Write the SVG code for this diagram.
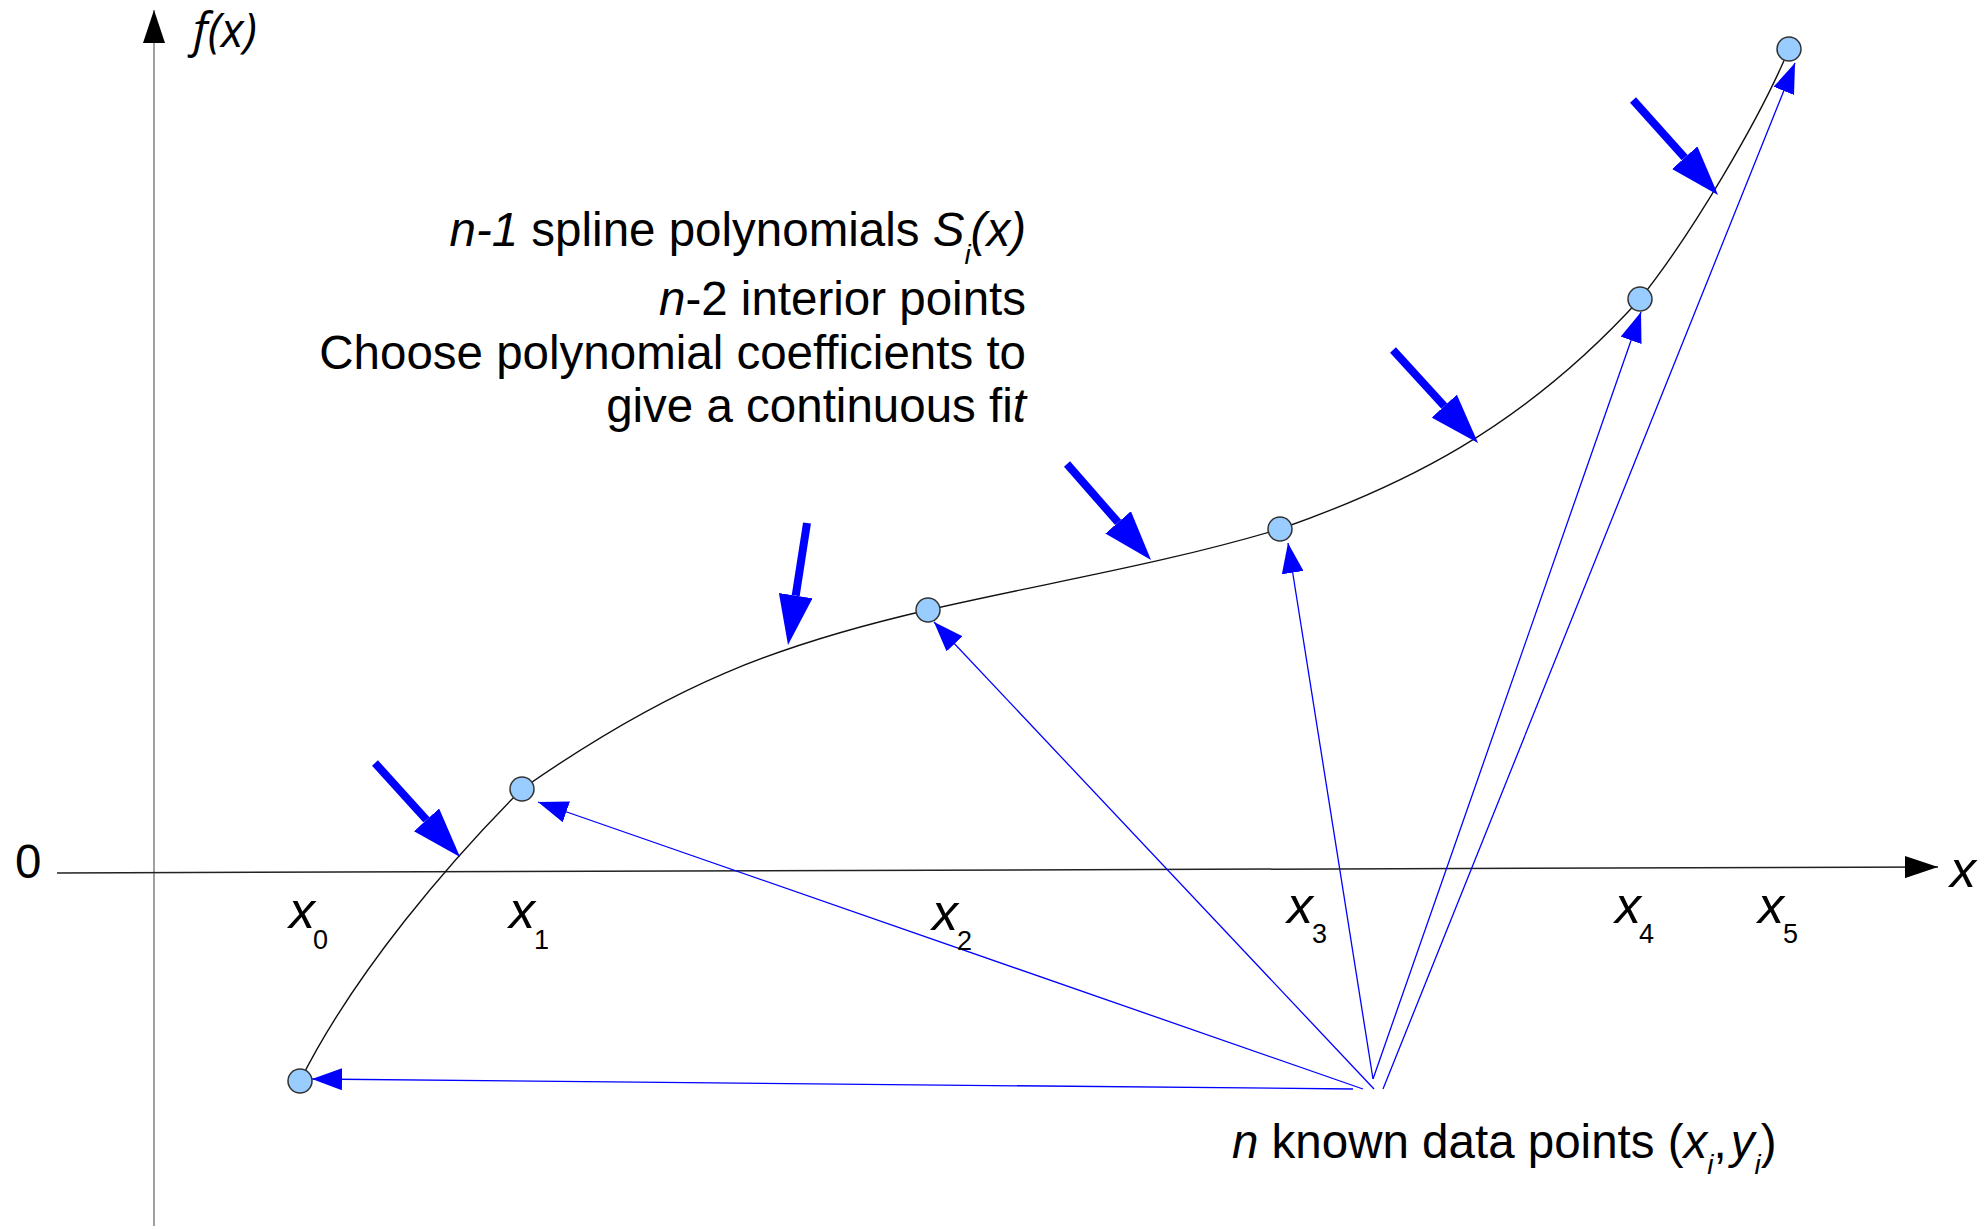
<svg xmlns="http://www.w3.org/2000/svg" width="1986" height="1229" viewBox="0 0 1986 1229">
<style>
.t{font-family:"Liberation Sans",Arial,sans-serif;font-size:47.5px;fill:#000}
.lab{font-family:"Liberation Sans",Arial,sans-serif;font-size:52px;fill:#000;font-style:italic}
.sub{font-family:"Liberation Sans",Arial,sans-serif;font-size:27px;fill:#000}
.it{font-style:italic}
.pt{fill:#99ccff;stroke:#333;stroke-width:1.5}
.thin{stroke:#0000ff;stroke-width:1.3;fill:none;marker-end:url(#smallHead)}
.big{stroke:#0000ff;stroke-width:8;fill:none;marker-end:url(#bigHead)}
</style>
<defs>
<marker id="axisHead" viewBox="0 0 33 22" markerWidth="33" markerHeight="22" markerUnits="userSpaceOnUse" refX="33" refY="11" orient="auto">
<path d="M0,0 L33,11 L0,22 z" fill="#000"/>
</marker>
<marker id="smallHead" viewBox="0 0 30 22" markerWidth="30" markerHeight="22" markerUnits="userSpaceOnUse" refX="30" refY="11" orient="auto">
<path d="M0,0 L30,11 L0,22 z" fill="#0000ff"/>
</marker>
<marker id="bigHead" viewBox="0 0 50 34" markerWidth="50" markerHeight="34" markerUnits="userSpaceOnUse" refX="0" refY="17" orient="auto">
<path d="M0,0 L50,17 L0,34 z" fill="#0000ff"/>
</marker>
</defs>
<rect width="1986" height="1229" fill="#fff"/>
<g id="axes">
<line x1="154" y1="1226" x2="154" y2="10" stroke="#808080" stroke-width="1.5" marker-end="url(#axisHead)"/>
<line x1="57" y1="873" x2="1938" y2="867" stroke="#222" stroke-width="1.5" marker-end="url(#axisHead)"/>
</g>
<g id="curve">
<path d="M300,1081 C355,971 452,859 522,789 C672,684 778,644.5 928,610 C1045,583 1163,564 1280,529 C1400,487 1521,430 1640,299 C1690,236.5 1759,121 1789,49" fill="none" stroke="#111" stroke-width="1.4"/>
</g>
<g id="connectors">
<line class="thin" x1="1353" y1="1089" x2="312" y2="1079"/>
<line class="thin" x1="1363" y1="1089" x2="538" y2="802"/>
<line class="thin" x1="1374" y1="1089" x2="934" y2="622"/>
<line class="thin" x1="1373" y1="1079" x2="1288" y2="543"/>
<line class="thin" x1="1373" y1="1079" x2="1641" y2="312"/>
<line class="thin" x1="1383" y1="1089" x2="1795" y2="63"/>
<line class="big" x1="375" y1="763" x2="426.5" y2="819.9"/>
<line class="big" x1="807" y1="523" x2="795.7" y2="595.6"/>
<line class="big" x1="1067" y1="464" x2="1118.1" y2="522.4"/>
<line class="big" x1="1393" y1="350" x2="1444.3" y2="406.1"/>
<line class="big" x1="1633" y1="100" x2="1684.7" y2="157.7"/>
</g>
<g id="p0"><circle class="pt" cx="300" cy="1081" r="12"/></g>
<g id="p1"><circle class="pt" cx="522" cy="789" r="12"/></g>
<g id="p2"><circle class="pt" cx="928" cy="610" r="12"/></g>
<g id="p3"><circle class="pt" cx="1280" cy="529" r="12"/></g>
<g id="p4"><circle class="pt" cx="1640" cy="299" r="12"/></g>
<g id="p5"><circle class="pt" cx="1789" cy="49" r="12"/></g>
<g id="axis-labels">
<text x="193" y="47" style="font-family:'Open Sans','Noto Sans',sans-serif;font-size:47px;font-style:italic">f(x)</text>
<text class="t" x="15" y="878">0</text>
<text class="lab" x="1950" y="887">x</text>
<text class="lab" x="289" y="928">x</text><text class="sub" x="313" y="949">0</text>
<text class="lab" x="509" y="928">x</text><text class="sub" x="534" y="949">1</text>
<text class="lab" x="932" y="930">x</text><text class="sub" x="957" y="950">2</text>
<text class="lab" x="1287" y="923">x</text><text class="sub" x="1312" y="943">3</text>
<text class="lab" x="1615" y="923">x</text><text class="sub" x="1639" y="943">4</text>
<text class="lab" x="1758" y="923">x</text><text class="sub" x="1783" y="943">5</text>
</g>
<g id="notes">
<text class="t" text-anchor="end" x="1026" y="246"><tspan class="it">n-1</tspan> spline polynomials <tspan class="it">S</tspan><tspan class="it" font-size="28" dy="18">i</tspan><tspan class="it" dy="-18">(x)</tspan></text>
<text class="t" text-anchor="end" x="1026" y="315"><tspan class="it">n</tspan>-2 interior points</text>
<text class="t" text-anchor="end" x="1026" y="369">Choose polynomial coefficients to</text>
<text class="t" text-anchor="end" x="1026" y="422">give a continuous fi<tspan class="it">t</tspan></text>
</g>
<g id="data-label">
<text class="t" x="1232" y="1158"><tspan class="it">n</tspan> known data points (<tspan class="it">x</tspan><tspan class="it" font-size="28" dy="16">i</tspan><tspan dy="-16">,</tspan><tspan class="it" dx="4">y</tspan><tspan class="it" font-size="28" dy="16">i</tspan><tspan dy="-16">)</tspan></text>
</g>
</svg>
